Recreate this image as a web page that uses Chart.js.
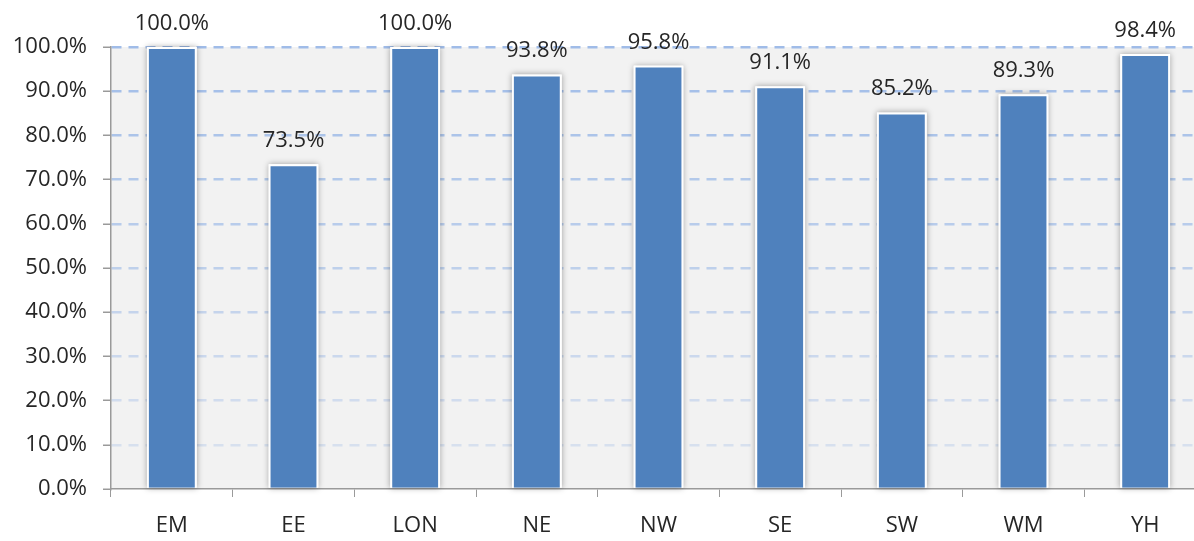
<!DOCTYPE html>
<html lang="en">
<head>
    <meta charset="UTF-8">
    <title>Regional percentages</title>
    <script src="https://cdn.jsdelivr.net/npm/chart.js"></script>
    <style>
        body { margin: 0; background: #fff; overflow: hidden; }
        .chart-container { width: 1206px; height: 541px; }
    </style>
</head>
<body>
    <div class="chart-container">
        <canvas id="regionChart"></canvas>
    </div>

    <script>
        const regions = ['EM', 'EE', 'LON', 'NE', 'NW', 'SE', 'SW', 'WM', 'YH'];
        const percentages = [100.0, 73.5, 100.0, 93.8, 95.8, 91.1, 85.2, 89.3, 98.4];
        const yTicks = [0, 10, 20, 30, 40, 50, 60, 70, 80, 90, 100];

        const fontFamily = "'Open Sans', sans-serif";
        const textColor = '#262626';

        // grey plot background
        const plotBackground = {
            id: 'plotBackground',
            beforeDraw(chart) {
                const { ctx, chartArea } = chart;
                ctx.save();
                ctx.fillStyle = '#f2f2f2';
                ctx.fillRect(chartArea.left, chartArea.top, chartArea.width, chartArea.height);
                ctx.restore();
            }
        };

        // soft glow behind each bar
        const barShadow = {
            id: 'barShadow',
            beforeDatasetsDraw(chart) {
                const { ctx } = chart;
                ctx.save();
                ctx.shadowColor = 'rgba(0, 0, 0, 0.35)';
                ctx.shadowBlur = 6;
                ctx.fillStyle = '#ffffff';
                chart.getDatasetMeta(0).data.forEach(bar => {
                    const w = bar.width;
                    ctx.fillRect(bar.x - w / 2, bar.y, w, bar.base - bar.y);
                });
                ctx.restore();
            }
        };

        // value labels above the bars
        const valueLabels = {
            id: 'valueLabels',
            afterDatasetsDraw(chart) {
                const { ctx } = chart;
                ctx.save();
                ctx.font = '22px ' + fontFamily;
                ctx.fillStyle = textColor;
                ctx.textAlign = 'center';
                ctx.textBaseline = 'alphabetic';
                chart.getDatasetMeta(0).data.forEach((bar, i) => {
                    ctx.fillText(percentages[i].toFixed(1) + '%', bar.x, bar.y - 17);
                });
                ctx.restore();
            }
        };

        const gridColor = (ctx) => {
            const v = ctx.tick ? ctx.tick.value : 0;
            if (v === 0) return 'rgba(0,0,0,0)';
            const a = 0.25 + 0.75 * (v / 100);
            return 'rgba(160, 188, 232, ' + a.toFixed(2) + ')';
        };

        const ctx = document.getElementById('regionChart').getContext('2d');
        new Chart(ctx, {
            type: 'bar',
            data: {
                labels: regions,
                datasets: [{
                    data: percentages,
                    backgroundColor: '#4f81bd',
                    borderColor: '#ffffff',
                    borderWidth: 2,
                    borderSkipped: 'bottom',
                    categoryPercentage: 1,
                    barPercentage: 0.41
                }]
            },
            options: {
                responsive: true,
                maintainAspectRatio: false,
                animation: false,
                layout: { padding: { top: 47, right: 0, left: 0, bottom: 0 } },
                plugins: {
                    legend: { display: false },
                    tooltip: { enabled: false }
                },
                scales: {
                    x: {
                        grid: {
                            offset: true,
                            drawOnChartArea: false,
                            tickLength: 8,
                            tickColor: '#9a9a9a'
                        },
                        border: { color: '#9a9a9a', width: 1.5 },
                        ticks: {
                            color: textColor,
                            font: { family: fontFamily, size: 22 },
                            padding: 16
                        },
                        afterFit(scale) { scale.height = 52; }
                    },
                    y: {
                        min: 0,
                        max: 100,
                        afterBuildTicks(scale) {
                            scale.ticks = yTicks.map(v => ({ value: v }));
                        },
                        grid: {
                            color: gridColor,
                            lineWidth: 2.5,
                            tickLength: 8,
                            tickColor: '#9a9a9a',
                            tickWidth: 1.5
                        },
                        border: { color: '#9a9a9a', width: 1.5, dash: [10, 7] },
                        ticks: {
                            color: textColor,
                            font: { family: fontFamily, size: 22 },
                            padding: 16,
                            callback: v => v.toFixed(1) + '%'
                        },
                        afterFit(scale) { scale.width = 111; }
                    }
                }
            },
            plugins: [plotBackground, barShadow, valueLabels]
        });
    </script>
</body>
</html>
